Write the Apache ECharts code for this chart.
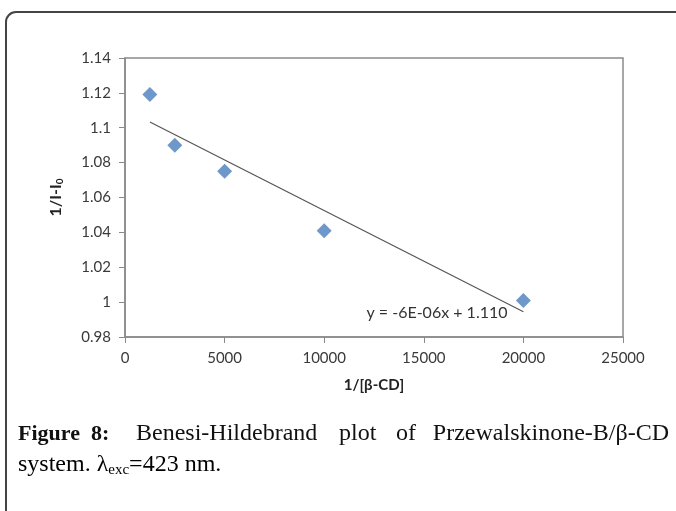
<!DOCTYPE html>
<html>
<head>
<meta charset="utf-8">
<script src="https://cdn.jsdelivr.net/npm/echarts@6/dist/echarts.min.js"></script>
<style>
html,body{margin:0;padding:0;background:#fff;}
#c{width:676px;height:511px;}
</style>
</head>
<body>
<div id="c"></div>
<script>
// Data
const xValues = [1250, 2500, 5000, 10000, 20000];
const yValues = [1.119, 1.090, 1.075, 1.041, 1.001];
// Trendline endpoints as drawn
const trendX = [1250, 20000];
const trendY = [1.1033, 0.9945];
const equationText = 'y = -6E-06x + 1.110';
const xTicks = [0, 5000, 10000, 15000, 20000, 25000];
const yTicks = [0.98, 1, 1.02, 1.04, 1.06, 1.08, 1.1, 1.12, 1.14];

const pts = xValues.map((x, i) => [x, yValues[i]]);
const trend = trendX.map((x, i) => [x, trendY[i]]);

const chart = echarts.init(document.getElementById('c'), null, {renderer: 'canvas'});
const sans = 'Lato, "Open Sans", sans-serif';
const tickFont = {fontFamily: sans, fontSize: 15, color: '#3a3a3a'};
const serif = '"Liberation Serif", "DejaVu Serif", serif';
const capSize = 24;
const boldSize = 22;

chart.setOption({
  backgroundColor: '#fff',
  animation: false,
  grid: {left: 125, right: 53, top: 58, bottom: 174, show: true, borderColor: '#8a8a8a', borderWidth: 1.5, backgroundColor: 'transparent'},
  xAxis: {
    type: 'value', min: 0, max: 25000, interval: 5000,
    axisLine: {show: true, onZero: false, lineStyle: {color: '#8a8a8a', width: 1.5}},
    axisTick: {show: true, length: 6, lineStyle: {color: '#8a8a8a'}},
    splitLine: {show: false},
    axisLabel: Object.assign({margin: 14, formatter: v => String(v)}, tickFont),
    name: '1/[β-CD]', nameLocation: 'middle', nameGap: 41,
    nameTextStyle: {fontFamily: sans, fontWeight: 'bold', fontSize: 15, color: '#222'}
  },
  yAxis: {
    type: 'value', min: 0.98, max: 1.14, interval: 0.02,
    axisLine: {show: true, lineStyle: {color: '#8a8a8a', width: 1.5}},
    axisTick: {show: true, length: 6, lineStyle: {color: '#8a8a8a'}},
    splitLine: {show: false},
    axisLabel: Object.assign({margin: 14, formatter: v => parseFloat(v.toFixed(2)).toString()}, tickFont),
    name: '{a|1/I-I}{b|0}', nameLocation: 'middle', nameGap: 60, nameRotate: 90,
    nameTextStyle: {
      rich: {
        a: {fontFamily: sans, fontWeight: 'bold', fontSize: 16, color: '#222'},
        b: {fontFamily: sans, fontWeight: 'bold', fontSize: 10, color: '#222', verticalAlign: 'bottom', padding: [8, 0, 0, 0]}
      }
    }
  },
  series: [
    {
      type: 'line', data: trend, symbol: 'none', silent: true,
      lineStyle: {color: '#555', width: 1.2}, z: 2
    },
    {
      type: 'scatter', data: pts, symbol: 'diamond', symbolSize: [15, 15],
      itemStyle: {color: '#4a7ebb'}, z: 3
    }
  ],
  graphic: [
    {type: 'rect', shape: {x: 6, y: 12, width: 720, height: 600, r: 10}, style: {fill: 'none', stroke: '#444', lineWidth: 2}, z: 0},
    {type: 'text', x: 437, y: 313, style: {text: equationText, align: 'center', verticalAlign: 'middle', fontFamily: sans, fontSize: 16, fill: '#333'}},
    {type: 'text', x: 18, y: 434, style: {text: 'Figure', fontFamily: serif, fontWeight: 'bold', fontSize: boldSize, fill: '#111', verticalAlign: 'middle'}},
    {type: 'text', x: 91, y: 434, style: {text: '8:', fontFamily: serif, fontWeight: 'bold', fontSize: boldSize, fill: '#111', verticalAlign: 'middle'}},
    {type: 'text', x: 136, y: 434, style: {text: 'Benesi-Hildebrand', fontFamily: serif, fontSize: capSize, fill: '#111', verticalAlign: 'middle'}},
    {type: 'text', x: 339, y: 434, style: {text: 'plot', fontFamily: serif, fontSize: capSize, fill: '#111', verticalAlign: 'middle'}},
    {type: 'text', x: 396, y: 434, style: {text: 'of', fontFamily: serif, fontSize: capSize, fill: '#111', verticalAlign: 'middle'}},
    {type: 'text', x: 669, y: 434, style: {text: 'Przewalskinone-B/β-CD', align: 'right', fontFamily: serif, fontSize: capSize, fill: '#111', verticalAlign: 'middle'}},
    {type: 'text', x: 18, y: 465, style: {
      text: '{t|system. λ}{s|exc}{t|=423 nm.}', verticalAlign: 'middle',
      rich: {
        t: {fontFamily: serif, fontSize: capSize, color: '#111'},
        s: {fontFamily: serif, fontSize: 15, color: '#111', verticalAlign: 'bottom', padding: [11, 0, 0, 0]}
      }
    }}
  ]
});
</script>
</body>
</html>
